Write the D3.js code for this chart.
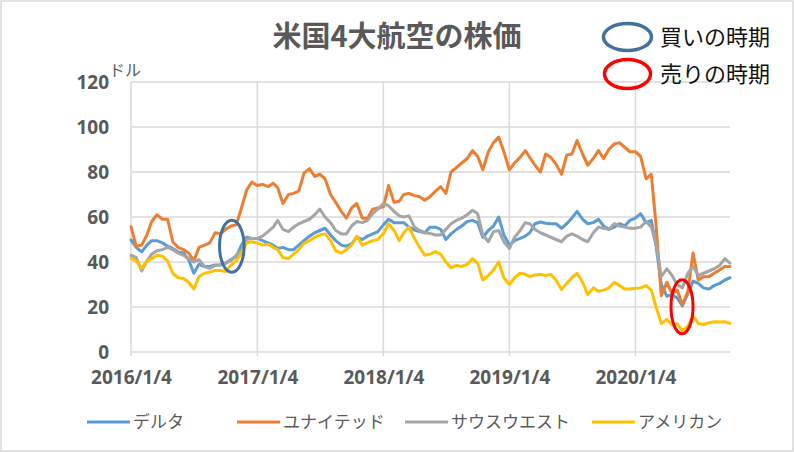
<!DOCTYPE html>
<html><head><meta charset="utf-8">
<script src="https://cdn.jsdelivr.net/npm/d3@7"></script>
<style>body{margin:0;background:#fff}</style>
</head><body><svg id="c" width="794" height="452"></svg>
<script>
const dates = [
"2016-01-04","2016-01-19","2016-02-04","2016-02-19","2016-03-04","2016-03-19","2016-04-04","2016-04-19","2016-05-04","2016-05-19","2016-06-04","2016-06-19",
"2016-07-04","2016-07-19","2016-08-04","2016-08-19","2016-09-04","2016-09-19","2016-10-04","2016-10-19","2016-11-04","2016-11-19","2016-12-04","2016-12-19",
"2017-01-04","2017-01-19","2017-02-04","2017-02-19","2017-03-04","2017-03-19","2017-04-04","2017-04-19","2017-05-04","2017-05-19","2017-06-04","2017-06-19",
"2017-07-04","2017-07-19","2017-08-04","2017-08-19","2017-09-04","2017-09-19","2017-10-04","2017-10-19","2017-11-04","2017-11-19","2017-12-04","2017-12-19",
"2018-01-04","2018-01-19","2018-02-04","2018-02-19","2018-03-04","2018-03-19","2018-04-04","2018-04-19","2018-05-04","2018-05-19","2018-06-04","2018-06-19",
"2018-07-04","2018-07-19","2018-08-04","2018-08-19","2018-09-04","2018-09-19","2018-10-04","2018-10-19","2018-11-04","2018-11-19","2018-12-04","2018-12-19",
"2019-01-04","2019-01-19","2019-02-04","2019-02-19","2019-03-04","2019-03-19","2019-04-04","2019-04-19","2019-05-04","2019-05-19","2019-06-04","2019-06-19",
"2019-07-04","2019-07-19","2019-08-04","2019-08-19","2019-09-04","2019-09-19","2019-10-04","2019-10-19","2019-11-04","2019-11-19","2019-12-04","2019-12-19",
"2020-01-04","2020-01-19","2020-02-04","2020-02-19","2020-03-04","2020-03-19","2020-04-04","2020-04-19","2020-05-04","2020-05-19","2020-06-04","2020-06-19",
"2020-07-04","2020-07-19","2020-08-04","2020-08-19","2020-09-04","2020-09-19","2020-10-04"
];
const delta = [
49.8,46.5,44.5,47.5,49.5,49.5,48.5,47,46,44.5,44,41,35,39,38,38,38.7,38.7,39.5,41,42.5,47.5,51,50.5,
50.5,49.5,48.5,47.5,46,46.5,45.5,45.5,47.5,49.5,51.5,53,54,55,52,49.5,47.5,47,48,51,50,51.5,52.5,53.5,
56.5,59,57.5,57.5,57.5,55.5,54.2,53.5,53,55.5,55.5,54.5,50,52.5,54.5,56,58,58.5,57.5,51,54,56,60,52,
47.5,49.5,50.5,51.5,53,57,57.8,57.2,57,57,55,57,59.5,62.5,59,57,57.5,59,56,54.5,55.5,57,56,58.5,
59.5,61.5,57.5,58.5,47,30,24.8,25.5,24,20.5,26,31.5,30.5,28.5,28,29.5,30.5,32,33
];
const united = [
55.7,47,47.5,52,58,61,59,59,49,46.5,45.5,44,40.5,46.5,47.5,48.5,53,52.5,54.5,56,56.5,64,72,75.5,
74,74.5,73.5,75,73,66,70,70.5,71.5,79.5,81.5,78,79,77,70,66.5,62.5,59.5,64,66,59.5,59.5,63.5,64,
64.5,74,66.5,67,70,70.5,69.5,69,67.5,69,71.5,73.5,70.5,80,82,84,86,89.5,87,81,89,93,95.5,89,
81,84,86.5,89.5,86.5,83,80,88,86.5,83.5,79,87.5,88,94,88,83,86,89.5,86,90,92.5,93,91,89,
89,87,77,79,56,25,31,26,27.5,21,27,44,32,33.5,33.5,35,36.5,38,38
];
const southwest = [
43,42,36,40.5,43.5,45,45.5,46.5,45.5,44,43,41.5,40,41,38,37.2,38.5,38.7,39.5,40.5,43,45,50,50.5,
50.5,51.5,53.5,55.5,58.5,54.5,53.5,55.5,57,58,59,61,63.5,60,57.5,54,52.5,52.5,56,58,57.5,58.5,61.5,63.5,
66,65,62.5,60.5,60,60.5,55.5,54,53,52.7,52,52,54.5,57,58.5,59.5,61,63,61.5,52,49,53.5,54,49,
46,51,54,57.5,57,54.5,53,52,51,50,49,51.5,52.5,51.5,50,49,53,55.5,55,54.5,57,56,55.5,55,
55,55.5,58,55.5,48,33.5,37,34,30,28.5,35,38,34,35,36,37,38.5,41.5,39.5
];
const american = [
41.6,40.5,37.2,40.5,41.5,43,42.5,40.5,35,33,32.7,31,28,33.5,35,35.5,36.2,36.2,35.8,38.5,40.5,44,48.5,49,
48.5,47.5,48,46.5,45.5,42,41.5,43.5,45.5,48.3,49.5,51,52,52.5,49.5,45,44,45.5,47.5,51.5,47.5,48.5,49.5,50,
52.7,57,54,49.5,53,55.5,50.5,46.5,43,43.5,44.6,43.5,40,37.5,38.5,38,39,41.5,39.5,32,34,36.5,40,33,
30,33,35,34.5,33.5,34.2,34.5,34,34.5,32,27.8,30.5,33,35,31,25.5,28.5,27,27.5,28.5,31,29.5,28,28,
28.3,28.5,29.5,27.5,20,12.7,14.5,12,12.5,9.5,11.5,16,12.7,12.2,13,13.4,13.3,13.4,12.7
];
const seriesNames = ["デルタ","ユナイテッド","サウスウエスト","アメリカン"];
const seriesValues = [delta, united, southwest, american];
const seriesColors = ["#5B9BD5","#ED7D31","#A5A5A5","#FFC000"];
const yTicks = [0,20,40,60,80,100,120];
const xTickLabels = ["2016/1/4","2017/1/4","2018/1/4","2019/1/4","2020/1/4"];
const titleText = "米国4大航空の株価";
const unitText = "ドル";
const buyLabel = "買いの時期";
const sellLabel = "売りの時期";
const buyPoint = {date:"2016-10-22", value:47};
const sellPoint = {date:"2020-05-18", value:20.1};

// layout
const W = 794, H = 452;
const plot = {left:131, right:730, top:82, bottom:352};
const legendX = [87, 237, 405, 592];
const legendY = 422;
const gridColor = "#D9D9D9";
const textColor = "#595959";
const numFont = "'Open Sans', 'Liberation Sans', sans-serif";
const jpFont = "'Noto Sans CJK JP', sans-serif";

const parseISO = d3.timeParse("%Y-%m-%d");
const parseLbl = d3.timeParse("%Y/%m/%d");
const xDates = dates.map(parseISO);

const svg = d3.select("#c");
svg.append("rect").attr("x",1).attr("y",1).attr("width",W-2).attr("height",H-2)
  .attr("fill","#fff").attr("stroke",gridColor).attr("stroke-width",1.5);

const x = d3.scaleTime().domain([xDates[0], xDates[xDates.length-1]]).range([plot.left, plot.right]);
const y = d3.scaleLinear().domain([0,120]).range([plot.bottom, plot.top]);

// horizontal gridlines
svg.append("g").selectAll("line").data(yTicks).join("line")
  .attr("x1",plot.left).attr("x2",plot.right)
  .attr("y1",d=>y(d)).attr("y2",d=>y(d))
  .attr("stroke",gridColor).attr("stroke-width",1.5);
// vertical gridlines
const xTicks = xTickLabels.map(parseLbl);
svg.append("g").selectAll("line").data(xTicks).join("line")
  .attr("x1",d=>x(d)).attr("x2",d=>x(d))
  .attr("y1",plot.top).attr("y2",plot.bottom+4)
  .attr("stroke",gridColor).attr("stroke-width",1.5);

// y axis labels
const yAxis = d3.axisLeft(y).tickValues(yTicks).tickSize(0).tickPadding(0).tickFormat(d3.format("d"));
const gy = svg.append("g").attr("transform",`translate(${plot.left-22},0)`).call(yAxis);
gy.select(".domain").remove();
gy.selectAll("text").attr("fill",textColor).style("font-family",numFont)
  .style("font-size","19px").style("font-weight","bold");

// x axis labels
const xAxis = d3.axisBottom(x).tickValues(xTicks).tickSize(0).tickPadding(0)
  .tickFormat((d,i)=>xTickLabels[i]);
const gx = svg.append("g").attr("transform",`translate(0,${plot.bottom+18})`).call(xAxis);
gx.select(".domain").remove();
gx.selectAll("text").attr("fill",textColor).style("font-family",numFont)
  .style("font-size","19px").style("font-weight","bold");

// lines
const line = d3.line().x((d,i)=>x(xDates[i])).y(d=>y(d)).curve(d3.curveLinear);
svg.append("g").selectAll("path").data(seriesValues).join("path")
  .attr("d",d=>line(d)).attr("fill","none")
  .attr("stroke",(d,i)=>seriesColors[i]).attr("stroke-width",3)
  .attr("stroke-linejoin","round").attr("stroke-linecap","round");

// annotation ellipses
svg.append("ellipse").attr("cx",x(parseISO(buyPoint.date))).attr("cy",y(buyPoint.value))
  .attr("rx",12.3).attr("ry",26).attr("fill","none").attr("stroke","#41719C").attr("stroke-width",3);
svg.append("ellipse").attr("cx",x(parseISO(sellPoint.date))).attr("cy",y(sellPoint.value))
  .attr("rx",11).attr("ry",27).attr("fill","none").attr("stroke","#FF0000").attr("stroke-width",3);

// title
svg.append("text").attr("x",397).attr("y",47).attr("text-anchor","middle")
  .attr("fill",textColor).style("font-family",jpFont).style("font-size","29px").style("font-weight","bold")
  .text(titleText);
// unit
svg.append("text").attr("x",109).attr("y",76).attr("fill",textColor)
  .style("font-family",jpFont).style("font-size","16px").text(unitText);

// buy/sell legend
svg.append("ellipse").attr("cx",627.5).attr("cy",37).attr("rx",24).attr("ry",13.5)
  .attr("fill","none").attr("stroke","#41719C").attr("stroke-width",3.5);
svg.append("ellipse").attr("cx",627.5).attr("cy",74).attr("rx",23).attr("ry",14.5)
  .attr("fill","none").attr("stroke","#FF0000").attr("stroke-width",3.5);
svg.append("text").attr("x",660).attr("y",45).attr("fill","#111")
  .style("font-family",jpFont).style("font-size","22px").text(buyLabel);
svg.append("text").attr("x",660).attr("y",82).attr("fill","#111")
  .style("font-family",jpFont).style("font-size","22px").text(sellLabel);

// series legend
const lg = svg.append("g").selectAll("g").data(seriesNames).join("g")
  .attr("transform",(d,i)=>`translate(${legendX[i]},${legendY})`);
lg.append("line").attr("x1",0).attr("x2",43).attr("y1",0).attr("y2",0)
  .attr("stroke",(d,i)=>seriesColors[i]).attr("stroke-width",3);
lg.append("text").attr("x",46).attr("y",6).attr("fill",textColor)
  .style("font-family",jpFont).style("font-size","17px").text(d=>d);
</script>
</body></html>
